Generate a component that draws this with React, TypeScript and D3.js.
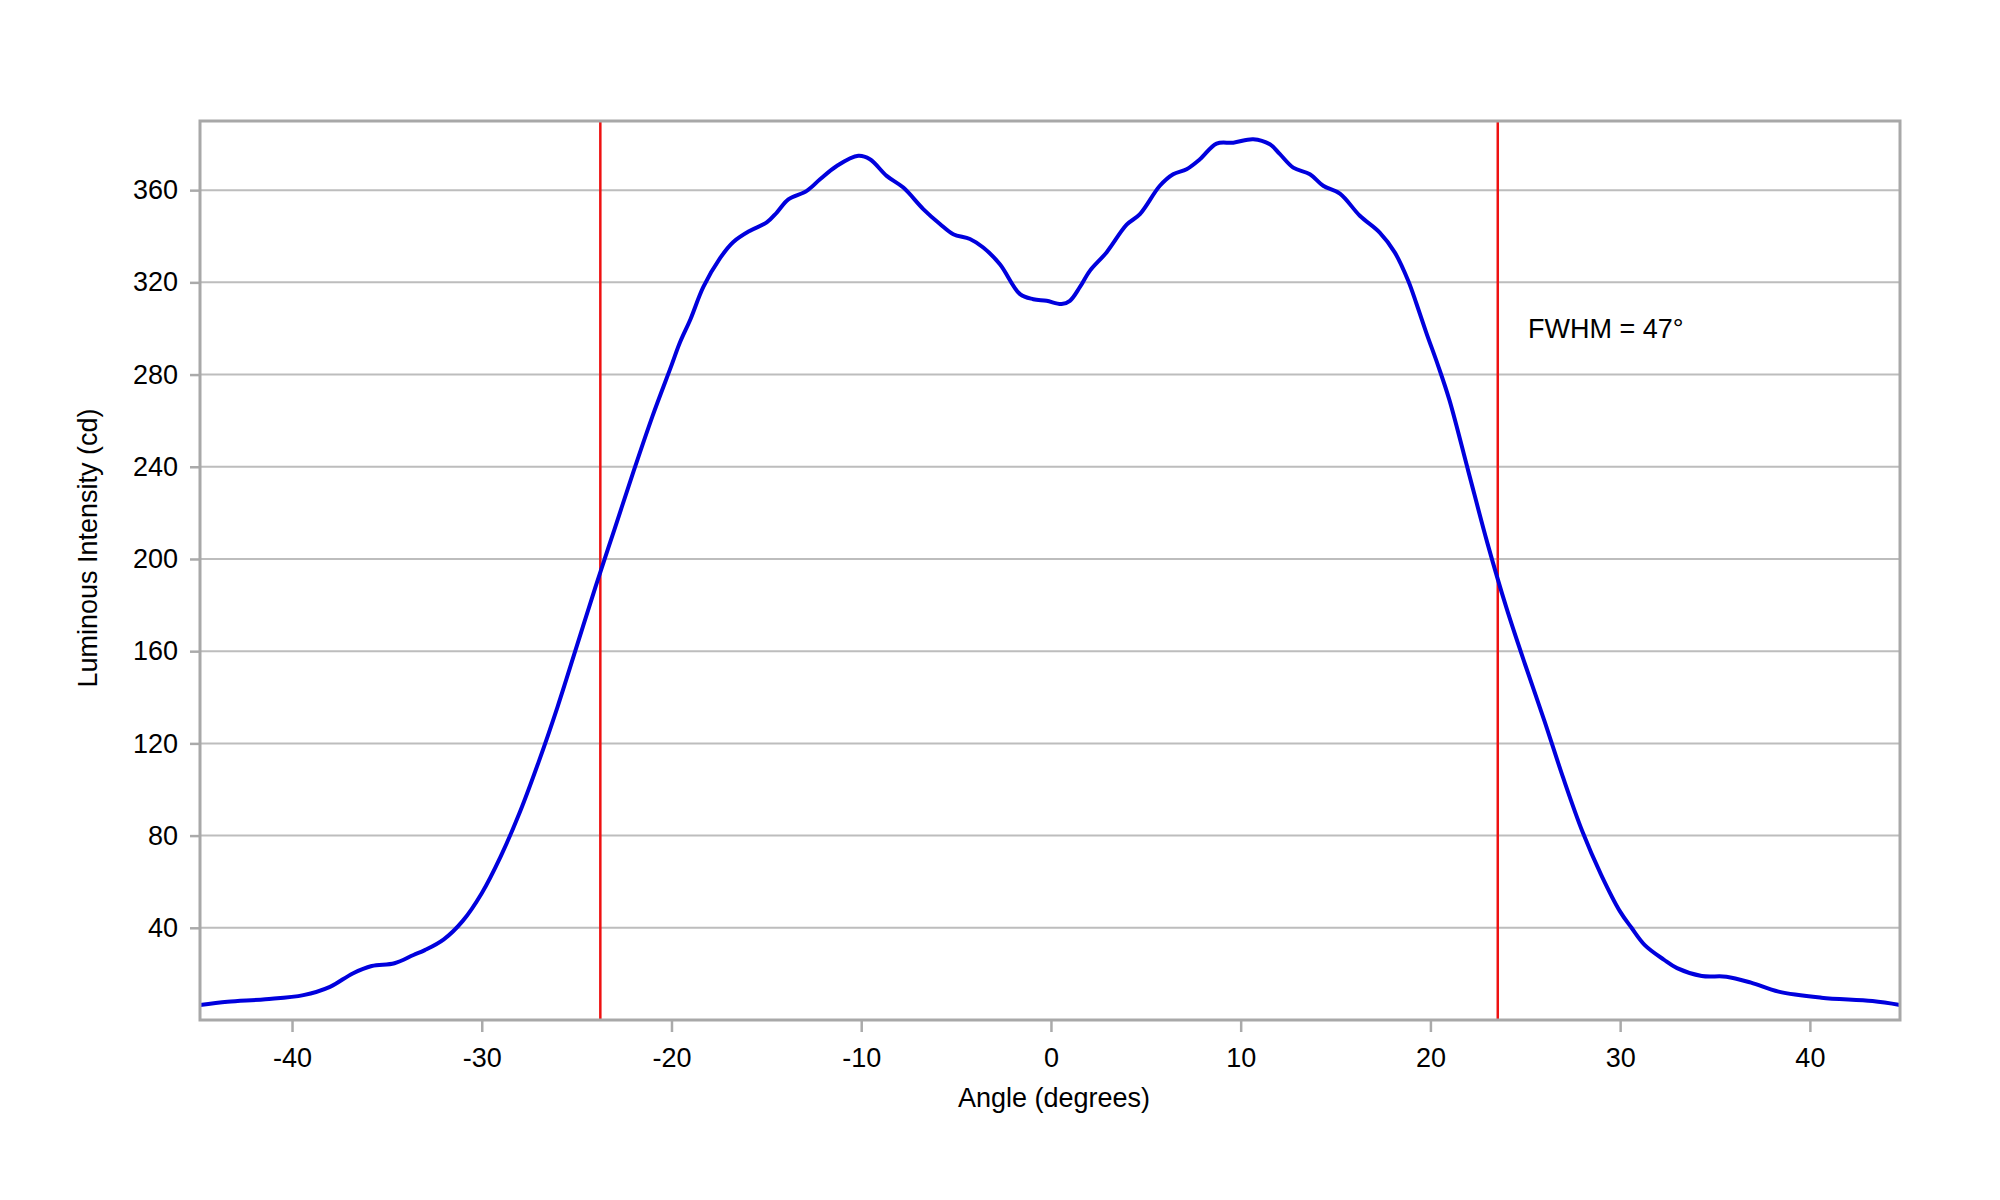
import React, { useEffect, useRef } from 'react'
import * as d3 from 'd3'

// angle (degrees) and luminous intensity (cd)
const angles = [
  -44.85, -43.4, -41.4, -39.4, -38, -36.8, -35.8, -34.6, -33.6, -33, -32, -31,
  -30, -29, -28, -27, -26, -25, -24, -23, -22, -21, -20, -19.55, -19, -18.32,
  -17.44, -16.74, -15.86, -14.98, -14.45, -13.84, -12.87, -12.17, -11.29,
  -10.15, -9.54, -8.66, -7.78, -6.73, -5.85, -5.15, -4.27, -3.57, -2.69,
  -1.63, -0.93, -0.23, 0.56, 1.0, 1.53, 2.05, 2.93, 3.99, 4.69, 5.74, 6.44,
  7.15, 7.85, 8.73, 9.61, 10.66, 11.54, 12.07, 12.77, 13.65, 14.35, 15.23,
  16.28, 17.33, 18.12, 18.83, 19.27, 19.79, 20.4, 21, 22, 23, 24, 25, 26, 27,
  28, 29, 30, 30.6, 31.3, 32.3, 33, 34.3, 35.6, 36.9, 38.35, 40.6, 43.3, 44.75,
]
const intensity = [
  6.5, 7.9, 9.0, 10.8, 14.4, 20.2, 23.4, 24.6, 28.2, 30.3, 35, 43,
  55, 71, 90, 112, 136, 162, 188, 213, 238, 262, 284, 294, 304, 318,
  330.5, 337.5, 342.4, 346, 350.3, 356, 359.7, 364.7, 370.5,
  374.9, 373.4, 366.2, 361.1, 351.8, 345.3, 340.9, 338.8, 335.1, 327.9,
  314.9, 312.7, 312, 310.6, 312, 318, 325, 333, 345, 349.6, 361.9, 366.9,
  369.1, 373.4, 380.2, 380.6, 382.1, 379.9, 375.6, 369.8, 366.9, 361.9, 358.5,
  348.9, 341.6, 333, 320.7, 310.6, 298, 284, 269, 238, 207, 179, 154, 130, 105,
  82, 63, 47, 40, 32.5, 26.2, 22.5, 19.1, 18.8, 16.2, 12.3, 9.7, 8.2, 6.5,
]

const xTicks = [-40, -30, -20, -10, 0, 10, 20, 30, 40]
const yTicks = [40, 80, 120, 160, 200, 240, 280, 320, 360]
const halfMaxAngles = [-23.75, 23.55]
const annotation = 'FWHM = 47°'

export default function App(): React.ReactElement {
  const chartRef = useRef<HTMLDivElement>(null)

  useEffect(() => {
    const width = 2000
    const height = 1200
    const left = 200
    const right = 1900
    const top = 121
    const bottom = 1020
    const font = 'Arial, "Liberation Sans", sans-serif'

    const x = d3.scaleLinear().domain([-44.85, 44.75]).range([left, right])
    const y = d3.scaleLinear().domain([0, 390]).range([bottom, top])

    d3.select(chartRef.current).select('svg').remove()

    const svg = d3
      .select(chartRef.current)
      .append('svg')
      .attr('width', width)
      .attr('height', height)
      .attr('viewBox', `0 0 ${width} ${height}`)
      .style('display', 'block')
      .style('background', '#ffffff')
      .style('font-family', font)

    // horizontal grid
    svg
      .append('g')
      .selectAll('line')
      .data(yTicks)
      .join('line')
      .attr('x1', left)
      .attr('x2', right)
      .attr('y1', (d) => y(d))
      .attr('y2', (d) => y(d))
      .attr('stroke', '#bdbdbd')
      .attr('stroke-width', 2)

    // x axis
    svg
      .append('g')
      .attr('transform', `translate(0,${bottom})`)
      .call(
        d3
          .axisBottom(x)
          .tickValues(xTicks)
          .tickSize(12)
          .tickPadding(16)
          .tickFormat((d) => String(d))
      )
      .call((g) => g.select('.domain').remove())
      .call((g) =>
        g.selectAll('.tick line').attr('stroke', '#aaaaaa').attr('stroke-width', 2.5)
      )
      .call((g) =>
        g
          .selectAll('.tick text')
          .attr('fill', '#000')
          .style('font-size', '27px')
          .style('font-family', font)
      )

    // y axis
    svg
      .append('g')
      .attr('transform', `translate(${left},0)`)
      .call(
        d3
          .axisLeft(y)
          .tickValues(yTicks)
          .tickSize(10)
          .tickPadding(12)
          .tickFormat((d) => String(d))
      )
      .call((g) => g.select('.domain').remove())
      .call((g) =>
        g.selectAll('.tick line').attr('stroke', '#aaaaaa').attr('stroke-width', 2.5)
      )
      .call((g) =>
        g
          .selectAll('.tick text')
          .attr('fill', '#000')
          .style('font-size', '27px')
          .style('font-family', font)
      )

    // half-maximum markers
    svg
      .append('g')
      .selectAll('line')
      .data(halfMaxAngles)
      .join('line')
      .attr('x1', (d) => x(d))
      .attr('x2', (d) => x(d))
      .attr('y1', top)
      .attr('y2', bottom)
      .attr('stroke', '#ee1111')
      .attr('stroke-width', 2.5)

    const points = angles.map((a, i) => [a, intensity[i]] as [number, number])
    const line = d3
      .line<[number, number]>()
      .x((d) => x(d[0]))
      .y((d) => y(d[1]))
      .curve(d3.curveCatmullRom.alpha(0.5))

    svg
      .append('path')
      .datum(points)
      .attr('d', line)
      .attr('fill', 'none')
      .attr('stroke', '#0000dd')
      .attr('stroke-width', 4)
      .attr('stroke-linejoin', 'round')

    // plot frame
    svg
      .append('rect')
      .attr('x', left)
      .attr('y', top)
      .attr('width', right - left)
      .attr('height', bottom - top)
      .attr('fill', 'none')
      .attr('stroke', '#a8a8a8')
      .attr('stroke-width', 3)

    svg
      .append('text')
      .attr('x', 1528)
      .attr('y', 338)
      .attr('font-size', 27)
      .attr('fill', '#000')
      .text(annotation)

    svg
      .append('text')
      .attr('x', 1054)
      .attr('y', 1107)
      .attr('text-anchor', 'middle')
      .attr('font-size', 27)
      .attr('fill', '#000')
      .text('Angle (degrees)')

    svg
      .append('text')
      .attr('transform', 'translate(97,548) rotate(-90)')
      .attr('text-anchor', 'middle')
      .attr('font-size', 27)
      .attr('fill', '#000')
      .text('Luminous Intensity (cd)')
  }, [])

  return <div ref={chartRef} style={{ position: 'absolute', left: 0, top: 0 }}></div>
}
